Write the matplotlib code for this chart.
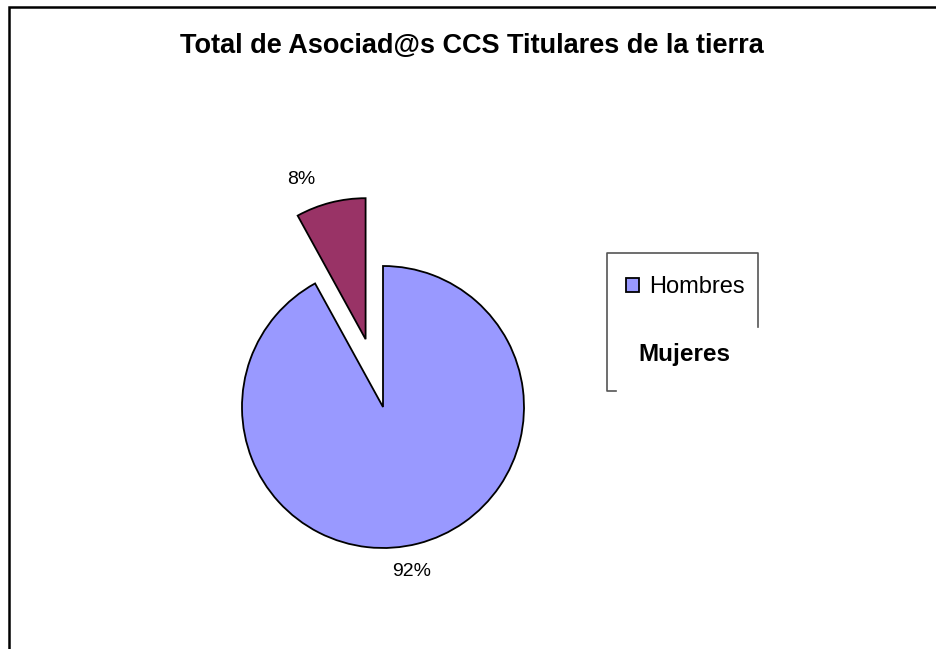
import matplotlib
matplotlib.use("Agg")
import matplotlib.pyplot as plt

plt.rcParams['font.family'] = ['Liberation Sans', 'DejaVu Sans']

# data
categories = ['Hombres', 'Mujeres']
values = [92, 8]
colors = ['#9999FF', '#993366']
title = 'Total de Asociad@s CCS Titulares de la tierra'

W, H = 936, 649
fig = plt.figure(figsize=(W / 100, H / 100), dpi=100)
ax = fig.add_axes([0, 0, 1, 1])

# pie laid out in pixel units (y measured from bottom)
radius = 141
wedges, texts, autotexts = ax.pie(
    values, colors=colors, startangle=90, counterclock=False,
    explode=[0, 70], center=(383, H - 407), radius=radius,
    autopct='%1.0f%%', pctdistance=1.2,
    wedgeprops=dict(edgecolor='black', linewidth=1.3),
    textprops=dict(fontsize=14, color='black'),
    frame=True)
ax.set_xlim(0, W)
ax.set_ylim(0, H)
ax.set_aspect('auto')
ax.axis('off')

# Excel puts the percentage labels a bit off the slice bisector
autotexts[0].set_position((412, H - 572))
autotexts[1].set_position((301, H - 180))

# outer chart border (left and top only visible)
ax.plot([9, 9, W], [0, H - 7, H - 7], color='black', lw=1.8, solid_joinstyle='miter')

# broken legend frame
lc = '#555555'
ax.plot([758, 758, 607, 607, 616], [H - 327, H - 253, H - 253, H - 391, H - 391],
        color=lc, lw=1.2)

leg = ax.legend([wedges[0]], [categories[0]], loc='center left',
                bbox_to_anchor=(626 / W, (H - 287) / H), frameon=False,
                borderpad=0, borderaxespad=0, handlelength=0.55, handleheight=0.55,
                handletextpad=0.45, prop=dict(size=17))
ax.text(684, H - 354, categories[1], ha='center', va='center',
        fontsize=17.5, fontweight='bold')

ax.text(472, H - 46, title, ha='center', va='center', fontsize=19.5, fontweight='bold')

fig.savefig('out.png', dpi=100, facecolor='white')
